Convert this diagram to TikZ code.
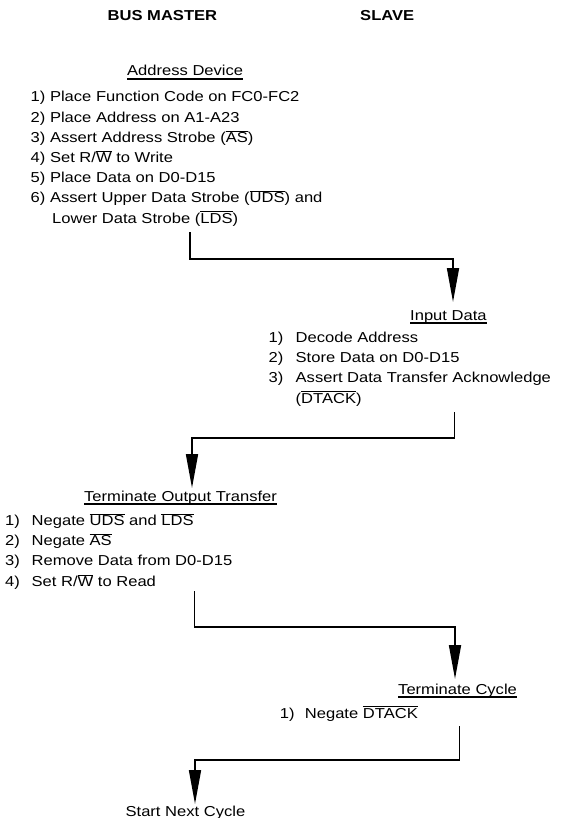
\documentclass[tikz,border=0pt]{standalone}
\usepackage{fontspec}
\setmainfont{Liberation Sans}[FakeStretch=1.15]
\usetikzlibrary{arrows.meta}
\newcommand\ovl[1]{\ensuremath{\overline{\hbox{#1}}}}
\tikzset{
  txt/.style={anchor=base west, inner sep=0pt, font=\fontsize{14.4}{18}\selectfont},
  hdr/.style={anchor=base west, inner sep=0pt, font=\fontsize{14.4}{18}\selectfont\bfseries},
  flow/.style={line width=1.7pt, -{Triangle[length=34pt,width=12pt]}},
  uline/.style={line width=1.1pt},
}
\begin{document}
\begin{tikzpicture}[x=1pt,y=-1pt]
\useasboundingbox (0,0) rectangle (561,818);

% column titles
\node[hdr] (bm) at (107.5,20.7) {BUS MASTER};
\node[hdr] (sl) at (360,20.7) {SLAVE};

% Address Device
\node[txt] (had) at (127,76) {Address Device};
\draw[uline] ([yshift=-3pt]had.base west) -- ([yshift=-3pt]had.base east);
\node[txt] (a1) at (30.5,102) {1) Place Function Code on FC0-FC2};
\node[txt] (a2) at (30.5,122.2) {2) Place Address on A1-A23};
\node[txt] (a3) at (30.5,142.3) {3) Assert Address Strobe (\ovl{AS})};
\node[txt] (a4) at (30.5,162.5) {4) Set R/\ovl{W} to Write};
\node[txt] (a5) at (30.5,182.7) {5) Place Data on D0-D15};
\node[txt] (a6) at (30.5,202.8) {6) Assert Upper Data Strobe (\ovl{UDS}) and};
\node[txt] (a7) at (52,223) {Lower Data Strobe (\ovl{LDS})};

% Input Data
\node[txt] (hin) at (410,320) {Input Data};
\draw[uline] ([yshift=-3pt]hin.base west) -- ([yshift=-3pt]hin.base east);
\node[txt] (i1) at (268.5,342.5) {\makebox[27pt][l]{1)}Decode Address};
\node[txt] (i2) at (268.5,362.7) {\makebox[27pt][l]{2)}Store Data on D0-D15};
\node[txt] (i3) at (268.5,382.9) {\makebox[27pt][l]{3)}Assert Data Transfer Acknowledge};
\node[txt] (i4) at (295.5,403) {(\ovl{DTACK})};

% Terminate Output Transfer
\node[txt] (hto) at (84,501) {Terminate Output Transfer};
\draw[uline] ([yshift=-3pt]hto.base west) -- ([yshift=-3pt]hto.base east);
\node[txt] (t1) at (5,525.5) {\makebox[26.5pt][l]{1)}Negate \ovl{UDS} and \ovl{LDS}};
\node[txt] (t2) at (5,545.7) {\makebox[26.5pt][l]{2)}Negate \ovl{AS}};
\node[txt] (t3) at (5,565.9) {\makebox[26.5pt][l]{3)}Remove Data from D0-D15};
\node[txt] (t4) at (5,586.1) {\makebox[26.5pt][l]{4)}Set R/\ovl{W} to Read};

% Terminate Cycle
\node[txt] (htc) at (398,694) {Terminate Cycle};
\draw[uline] ([yshift=-3pt]htc.base west) -- ([yshift=-3pt]htc.base east);
\node[txt] (c1) at (279.6,718) {\makebox[25.1pt][l]{1)}Negate \ovl{DTACK}};

% Start Next Cycle
\node[txt] (hsn) at (125.4,816.5) {Start Next Cycle};

% connectors
\coordinate (k1s) at (190,232);
\coordinate (k1e) at (453,302);
\coordinate (k2s) at (454.5,412);
\coordinate (k2e) at (192,488);
\coordinate (k3s) at (194.5,591);
\coordinate (k3e) at (455,679);
\coordinate (k4s) at (459.5,726);
\coordinate (k4e) at (195,804);

\draw[flow] (k1s) -- ++(0,27) -| (k1e);
\draw[flow] (k2s) -- ++(0,26) -| (k2e);
\draw[flow] (k3s) -- ++(0,36) -| (k3e);
\draw[flow] (k4s) -- ++(0,34) -| (k4e);
\end{tikzpicture}
\end{document}
